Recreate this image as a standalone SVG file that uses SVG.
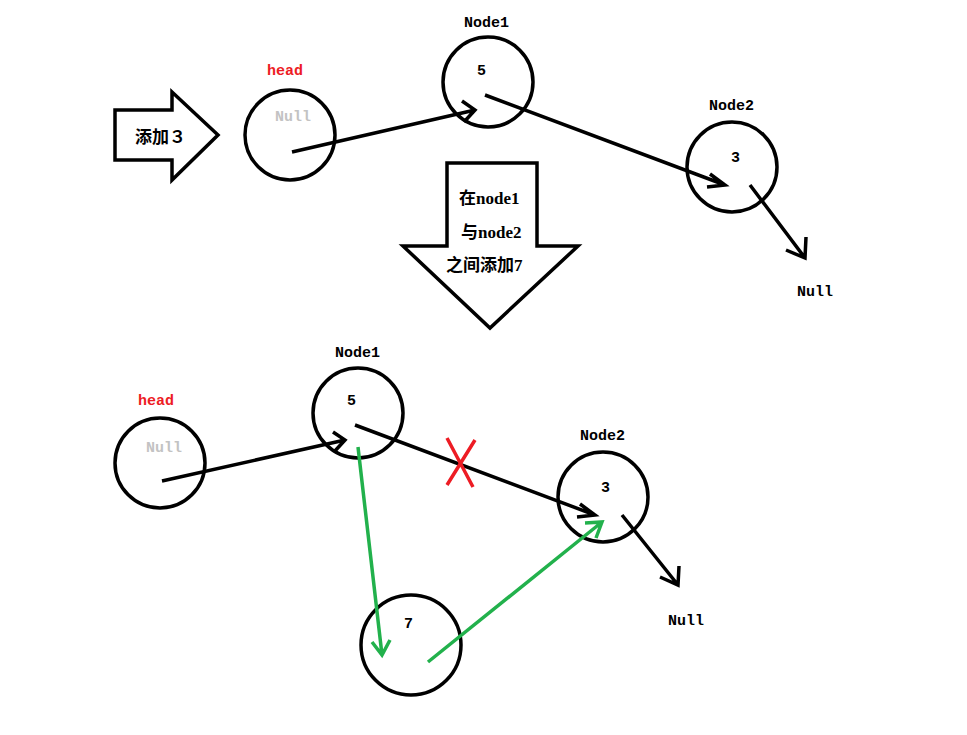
<svg xmlns="http://www.w3.org/2000/svg" width="967" height="735" viewBox="0 0 967 735">
<style>
.c{fill:none;stroke:#000;stroke-width:3.5}
.l{stroke:#000;stroke-width:3.5;fill:none}
.g{stroke:#22b14c;stroke-width:3.5;fill:none}
.t{font-family:"Liberation Mono","Noto Sans CJK SC",monospace;font-size:15px;font-weight:bold;fill:#000}
.r{fill:#ed1c24}
.n{fill:#c3c3c3}
.big{font-family:"Liberation Serif","Noto Sans CJK SC",serif;font-size:17px}
</style>
<rect width="967" height="735" fill="#fff"/>
<g id="addArrow"><polygon points="115,110 172,110 172,92 218,135 172,180 172,160 115,160" fill="#fff" stroke="#000" stroke-width="3.5"/><text class="t big" x="135" y="143">添加３</text></g>
<g id="head1"><text class="t r" x="267" y="75">head</text><circle class="c" cx="290" cy="135" r="45"/><text class="t n" x="275" y="121">Null</text></g>
<g id="node1a"><text class="t" x="464" y="27">Node1</text><circle class="c" cx="488" cy="82" r="45"/><text class="t" x="477" y="75">5</text></g>
<g id="node2a"><text class="t" x="709" y="110">Node2</text><circle class="c" cx="732" cy="167" r="45"/><text class="t" x="731" y="162">3</text></g>
<g id="null1"><text class="t" x="797" y="296">Null</text></g>
<g id="downArrow"><polygon points="447,163 537,163 537,246 578,246 490,328 403,246 447,246" fill="#fff" stroke="#000" stroke-width="3.5"/>
<text class="t big" x="459" y="204">在node1</text><text class="t big" x="461" y="238">与node2</text><text class="t big" x="446" y="271">之间添加7</text></g>
<g id="head2"><text class="t r" x="138" y="405">head</text><circle class="c" cx="160" cy="463" r="45"/><text class="t n" x="146" y="452">Null</text></g>
<g id="node1b"><text class="t" x="335" y="357">Node1</text><circle class="c" cx="358" cy="413" r="45"/><text class="t" x="347" y="405">5</text></g>
<g id="node2b"><text class="t" x="580" y="440">Node2</text><circle class="c" cx="603" cy="497" r="45"/><text class="t" x="601" y="492">3</text></g>
<g id="node7"><circle class="c" cx="411" cy="645" r="50"/><text class="t" x="404" y="628">7</text></g>
<g id="null2"><text class="t" x="668" y="625">Null</text></g>
<g id="connectors">
<path class="l" d="M292,152 L475,110 M462,101 L475,110 L464,122"/>
<path class="l" d="M485,95 L725,185 M710,174 L725,185 L707,187"/>
<path class="l" d="M750,185 L805,258 M806,237 L805,258 L786,250"/>
<path class="l" d="M162,481 L345,440 M333,432 L345,440 L334,452"/>
<path class="l" d="M355,425 L595,515 M580,504 L595,515 L577,517"/>
<path class="l" d="M622,515 L678,585 M679,566 L678,585 L660,577"/>
<path d="M447,438 L473,487 M447,485 L475,440" stroke="#ed1c24" stroke-width="3.5"/>
<path class="g" d="M358,447 L382,655 M372,642 L382,655 L390,640"/>
<path class="g" d="M428,662 L602,522 M585,523 L602,522 L596,538"/>
</g>
</svg>
